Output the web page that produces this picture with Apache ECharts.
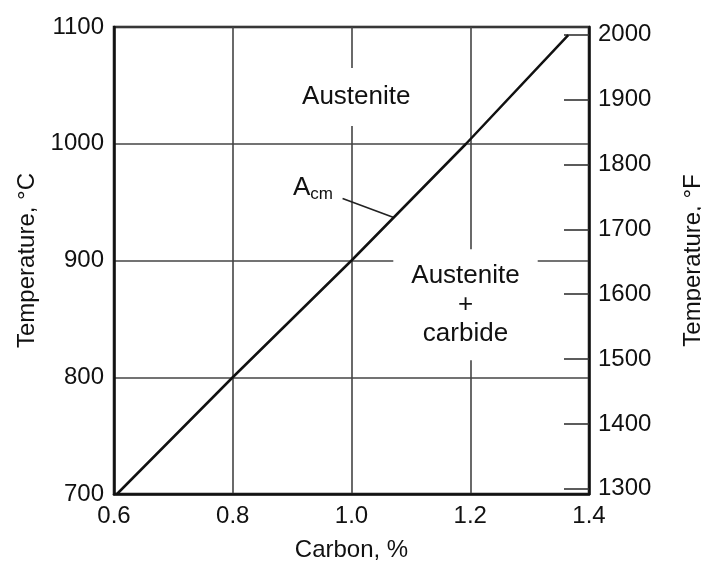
<!DOCTYPE html>
<html>
<head>
<meta charset="utf-8">
<script src="https://cdn.jsdelivr.net/npm/echarts@6/dist/echarts.min.js"></script>
<style>
html,body{margin:0;padding:0;background:#fff;}
#chart{width:701px;height:562px;}
</style>
</head>
<body>
<div id="chart"></div>
<script>
// Acm line (carbon %, temperature °C)
const carbon = [0.605, 0.8, 1.0, 1.193, 1.365];
const tempC = [700, 800, 900, 1000, 1093];
// axis ticks
const xTicks = [0.6, 0.8, 1.0, 1.2, 1.4];
const cTicks = [700, 800, 900, 1000, 1100];
const fTicks = [1300, 1400, 1500, 1600, 1700, 1800, 1900, 2000];
// annotations [carbon, tempC]
const austenitePos = [1.008, 1040];
const acmPos = [0.935, 962];
const mixPos = [1.192, 862];
const leaderStart = [0.985, 953];
const leaderEnd = [1.07, 937];

const cMin = cTicks[0], cMax = cTicks[cTicks.length - 1];
const toF = c => c * 9 / 5 + 32;

const font = '"Liberation Sans", Arial, sans-serif';
const ink = '#111';

const chart = echarts.init(document.getElementById('chart'));
chart.setOption({
  backgroundColor: '#fff',
  animation: false,
  textStyle: { fontFamily: font, color: ink },
  grid: { left: 114, right: 112, top: 27, bottom: 68, containLabel: false, outerBoundsMode: 'none',
          show: true, borderColor: ink, borderWidth: 2.5, backgroundColor: 'transparent' },
  xAxis: {
    type: 'value', min: xTicks[0], max: xTicks[xTicks.length - 1], interval: 0.2,
    name: 'Carbon, %', nameLocation: 'middle', nameGap: 44,
    nameTextStyle: { fontSize: 24, color: ink, fontFamily: font },
    axisLine: { show: true, lineStyle: { color: ink, width: 2.5 } },
    axisTick: { show: false },
    axisLabel: { fontSize: 24, color: ink, margin: 10, formatter: v => v.toFixed(1), fontFamily: font },
    splitLine: { show: true, lineStyle: { color: '#444', width: 1.6 } }
  },
  yAxis: [
    {
      type: 'value', min: cMin, max: cMax, interval: 100, position: 'left',
      name: 'Temperature, °C', nameLocation: 'middle', nameGap: 66, nameRotate: 90,
      nameTextStyle: { fontSize: 24, color: ink, fontFamily: font },
      axisLine: { show: true, lineStyle: { color: ink, width: 2.5 } },
      axisTick: { show: false },
      axisLabel: { fontSize: 24, color: ink, margin: 10, fontFamily: font, formatter: v => String(v) },
      splitLine: { show: true, lineStyle: { color: '#444', width: 1.6 } }
    },
    {
      type: 'value', min: toF(cMin), max: toF(cMax), position: 'right',
      name: 'Temperature, °F', nameLocation: 'middle', nameGap: 92, nameRotate: 90,
      nameTextStyle: { fontSize: 24, color: ink, fontFamily: font },
      axisLine: { show: true, lineStyle: { color: ink, width: 2.5 } },
      axisTick: { show: true, inside: true, length: 25, customValues: fTicks, lineStyle: { color: '#333', width: 1.6 } },
      axisLabel: { fontSize: 24, color: ink, margin: 9, customValues: fTicks, fontFamily: font, formatter: v => String(v) },
      splitLine: { show: false }
    }
  ],
  series: [{
    type: 'line',
    data: carbon.map((c, i) => [c, tempC[i]]),
    showSymbol: false,
    symbol: 'none',
    lineStyle: { color: ink, width: 2.5 },
    z: 5,
    markLine: {
      silent: true, symbol: 'none',
      lineStyle: { color: '#222', width: 1.6, type: 'solid' },
      label: { show: false },
      data: [[{ coord: leaderStart }, { coord: leaderEnd }]]
    },
    markPoint: {
      silent: true,
      symbol: 'rect', symbolSize: 1,
      itemStyle: { color: 'rgba(0,0,0,0)' },
      data: [
        { coord: austenitePos, label: { show: true, position: 'inside', formatter: 'Austenite', fontSize: 26, color: ink, fontFamily: font, backgroundColor: '#fff', padding: [16, 6] } },
        { coord: acmPos, label: { show: true, position: 'inside', formatter: '{a|A}{b|cm}', backgroundColor: '#fff', padding: [2, 4],
            rich: { a: { fontSize: 26, color: ink, fontFamily: font, lineHeight: 30 }, b: { fontSize: 17, color: ink, fontFamily: font, lineHeight: 30, padding: [12, 0, 0, 0] } } } },
        { coord: mixPos, label: { show: true, position: 'inside', formatter: 'Austenite\n+\ncarbide', fontSize: 26, lineHeight: 29, align: 'center', color: ink, fontFamily: font, backgroundColor: '#fff', padding: [12, 18] } }
      ]
    }
  }]
});
</script>
</body>
</html>
